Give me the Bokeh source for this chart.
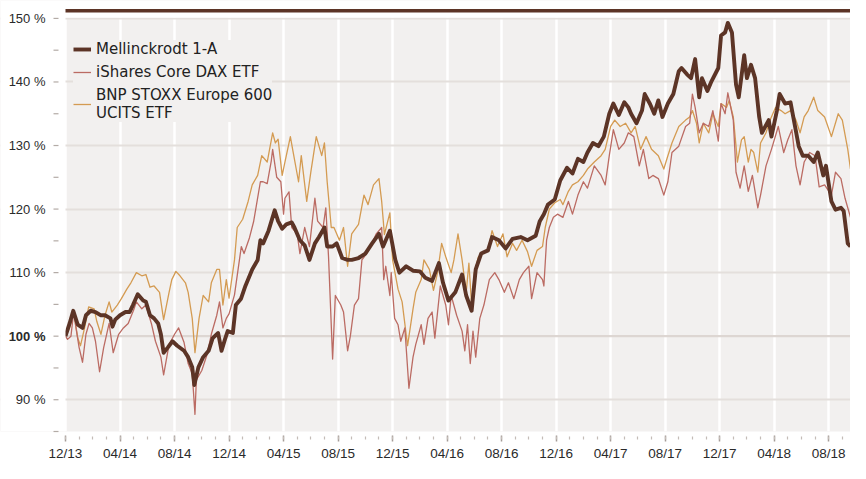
from bokeh.plotting import figure
from bokeh.models import (Range1d, FixedTicker, Legend, LegendItem, Span, BoxAnnotation)
from bokeh.core.properties import value
from bokeh.embed import file_html
from bokeh.resources import INLINE

# ---------------- data (months since 12/13, value in %) ----------------
mell_month = [0, 0.3, 0.57, 0.9, 1.25, 1.5, 1.85, 2.2, 2.57, 2.9, 3.3, 3.45, 3.65, 4.0, 4.4, 4.7,
              4.95, 5.3, 5.7, 5.9, 6.2, 6.5, 6.8, 7.0, 7.2, 7.5, 7.85, 8.2, 8.7, 9.0, 9.3, 9.45,
              9.75, 10.1, 10.5, 10.8, 11.2, 11.45, 11.7, 11.9, 12.28, 12.5, 12.88, 13.2, 13.7,
              14.1, 14.3, 14.5, 14.9, 15.35, 15.6, 15.9, 16.2, 16.6, 16.8, 17.2, 17.55, 17.9,
              18.3, 18.6, 19.0, 19.2, 19.6, 19.9, 20.3, 20.7, 21.0, 21.5, 22.0, 22.5, 23.0,
              23.3, 23.5, 23.8, 24.2, 24.5, 25.0, 25.5, 26.0, 26.4, 26.9, 27.4, 27.7, 28.1,
              28.6, 29.1, 29.4, 29.8, 30.1, 30.5, 31.0, 31.3, 31.8, 32.3, 32.8, 33.4, 33.9,
              34.5, 34.8, 35.1, 35.4, 35.9, 36.3, 36.8, 37.2, 37.6, 38.0, 38.3, 38.7, 39.1,
              39.5, 39.9, 40.2, 40.6, 41.0, 41.3, 41.5, 41.9, 42.3, 42.5, 42.9, 43.2, 43.5,
              43.8, 44.2, 44.6, 45.0, 45.2, 45.6, 45.9, 46.2, 46.5, 46.7, 47.1, 47.4, 47.9,
              48.1, 48.4, 48.6, 48.9, 49.2, 49.4, 49.8, 50.0, 50.3, 50.6, 50.9, 51.1, 51.6,
              51.8, 52.2, 52.4, 52.8, 53.2, 53.4, 53.8, 54.1, 54.5, 54.9, 55.2, 55.6, 55.8,
              56.2, 56.5, 56.9, 57.1, 57.4, 57.6]
mell_value = [100, 102, 104, 101.8, 101.3, 103.3, 104, 103.8, 103.3, 103.3, 102.8, 101.5, 102.6,
              103.3, 103.8, 103.8, 104.9, 106.6, 105.6, 105.4, 103.3, 102.8, 102, 100.3, 97.4,
              98.2, 99.2, 98.5, 97.7, 96.7, 95.1, 92.3, 95.1, 96.7, 97.7, 99.7, 100.5, 97.7,
              99.5, 100.8, 100.5, 104.9, 105.9, 107.9, 110.5, 112, 115.1, 114.6, 116.6, 119.8,
              118.1, 116.9, 117.6, 117.9, 117.1, 115.1, 114.3, 112, 114.6, 115.6, 117.1, 114.1,
              114.1, 114.6, 112.3, 112, 112, 112.3, 113, 114.6, 116.1, 114.1, 115.1, 116.6,
              112, 110, 111, 110.3, 110.2, 109.2, 108.7, 111.5, 108.4, 105.6, 106.9, 109.7,
              106.4, 104, 110.5, 113, 113.5, 115.6, 115.1, 113.8, 115.3, 115.6, 115.1, 115.8,
              118.1, 119.2, 120.7, 121.5, 124.5, 126.5, 125.6, 127.9, 127.4, 128.9, 130.4,
              129.9, 131.4, 135, 136.6, 134.8, 136.8, 136, 135, 133.5, 135.5, 138.1, 136.5,
              135, 137.1, 134.5, 136.6, 138.1, 141.7, 142.2, 141.2, 140.6, 143.6, 137.6, 140.6,
              138.6, 140.1, 142.2, 147.3, 147.8, 149.3, 147.8, 139.6, 137.6, 144.2, 140.6,
              142.7, 140.6, 134.5, 132, 134, 131.4, 135.5, 138.1, 136.6, 136.8, 134.5, 129.9,
              128.4, 128.4, 127.4, 128.9, 125.3, 126.8, 121.2, 119.9, 120.2, 119.7, 114.6, 114.1]

dax_month = [0, 0.15, 0.4, 0.6, 0.77, 1.0, 1.25, 1.5, 1.73, 1.97, 2.2, 2.5, 2.8, 3.2, 3.5, 3.9,
             4.25, 4.6, 5.0, 5.2, 5.6, 5.9, 6.3, 6.6, 7.0, 7.2, 7.6, 8.0, 8.3, 8.7, 9.0, 9.3, 9.5,
             9.6, 10.0, 10.4, 10.7, 11.1, 11.3, 11.55, 11.8, 12.0, 12.4, 12.9, 13.1, 13.5, 13.8,
             14.0, 14.3, 14.5, 14.8, 15.1, 15.2, 15.5, 15.8, 16.0, 16.1, 16.4, 16.6, 17.0, 17.2,
             17.55, 17.9, 18.3, 18.5, 18.9, 19.1, 19.3, 19.6, 19.8, 20.2, 20.4, 20.7, 20.9, 21.2,
             21.5, 21.75, 22.1, 22.5, 22.8, 23.2, 23.35, 23.5, 23.8, 23.9, 24.15, 24.4, 24.6,
             24.9, 25.2, 25.5, 25.7, 26.1, 26.3, 26.6, 26.9, 27.1, 27.5, 27.9, 28.1, 28.3, 28.7,
             29.1, 29.3, 29.5, 29.7, 29.9, 30.1, 30.4, 30.7, 31.1, 31.5, 31.8, 32.2, 32.5, 32.9,
             33.3, 33.6, 34.0, 34.2, 34.6, 35.0, 35.1, 35.3, 35.5, 35.8, 36.1, 36.5, 36.9, 37.2,
             37.6, 38.0, 38.3, 38.8, 39.3, 39.6, 39.9, 40.2, 40.6, 41.0, 41.3, 41.7, 42.1, 42.4,
             42.8, 43.1, 43.5, 43.9, 44.2, 44.5, 45.0, 45.5, 45.8, 46.0, 46.2, 46.5, 46.8, 47.2,
             47.5, 47.9, 48.1, 48.4, 48.6, 49.0, 49.2, 49.5, 49.8, 50.1, 50.4, 50.8, 51.0, 51.4,
             51.8, 52.3, 52.7, 53.0, 53.3, 53.6, 53.9, 54.2, 54.6, 55.0, 55.3, 55.7, 56.2, 56.5,
             56.9, 57.2, 57.6]
dax_value = [100, 99.5, 100, 103.8, 101.3, 98.2, 95.9, 100.3, 102, 101.3, 99.2, 94.4, 98.2, 102,
             97.4, 100.3, 101.3, 102, 104.1, 105.4, 104.3, 104.9, 102, 99.2, 96.7, 93.9, 98.7,
             100.3, 101.3, 99, 95.7, 94.1, 87.7, 93.1, 94.6, 97.2, 100.3, 103.3, 105.4, 101.3,
             102.8, 103.5, 106.5, 114.1, 113, 115.5, 118, 120.5, 124.3, 124.3, 124, 127.6, 129.4,
             125, 124.3, 119.2, 121.7, 122.7, 117.1, 116.1, 113, 117.1, 114.1, 121.7, 118.1,
             117.1, 120.2, 112.5, 96.4, 106.4, 104.9, 103.8, 97.7, 100, 104.9, 105.9, 112, 113,
             114.6, 116.1, 117.1, 108.9, 111, 106.4, 110, 102.8, 101.8, 99.2, 101.3, 91.8, 96.7,
             98.7, 101.8, 98.7, 102.8, 103.8, 99.7, 107.9, 104.9, 101.8, 106.4, 103.3, 100.8,
             97.7, 101.8, 95.7, 100.8, 96.7, 102.8, 104.9, 108.9, 110, 108.9, 106.9, 108.4,
             105.9, 108.9, 110, 111, 105.9, 110, 108.9, 107.9, 115.1, 117.1, 118.7, 119.2, 118.7,
             121.2, 119.2, 122.2, 124.3, 123.3, 126.8, 125.3, 123.8, 128.4, 132.5, 129.4, 130.4,
             132, 131.4, 126.8, 129.4, 124.8, 125.3, 124.8, 122.2, 124.3, 128.9, 129.9, 133,
             133.5, 138.1, 136, 132, 133.5, 133, 135.5, 130.7, 136.6, 135, 138.3, 134, 125.8,
             123.3, 126.8, 122.8, 125.3, 120.2, 122.2, 126.8, 129.4, 133, 128.9, 130.9, 132.5,
             126.8, 123.8, 127.4, 128.9, 128.4, 123.5, 123.8, 122.2, 125.8, 124.8, 121.7, 118.7]

bnp_month = [0, 0.3, 0.6, 0.9, 1.1, 1.4, 1.7, 2.1, 2.3, 2.6, 2.9, 3.2, 3.4, 3.8, 4.1, 4.5, 4.8,
             5.2, 5.6, 5.9, 6.2, 6.5, 6.9, 7.2, 7.6, 7.8, 8.1, 8.4, 8.8, 9.0, 9.3, 9.5, 9.8,
             10.1, 10.5, 10.7, 11.1, 11.3, 11.55, 11.8, 12.0, 12.4, 12.6, 13.0, 13.4, 13.7, 14.1,
             14.4, 14.8, 15.2, 15.4, 15.6, 15.9, 16.1, 16.5, 16.7, 17.1, 17.3, 17.7, 18.0, 18.4,
             18.8, 19.0, 19.2, 19.5, 19.7, 20.1, 20.4, 20.7, 21.0, 21.5, 21.9, 22.2, 22.6, 23.0,
             23.2, 23.4, 23.8, 24.0, 24.4, 24.7, 25.1, 25.5, 25.7, 26.1, 26.3, 26.7, 27.0, 27.3,
             27.6, 27.9, 28.3, 28.5, 28.8, 29.1, 29.4, 29.6, 29.8, 30.0, 30.3, 30.6, 31.0, 31.3,
             31.7, 32.1, 32.4, 32.8, 33.1, 33.5, 33.9, 34.2, 34.6, 35.0, 35.2, 35.5, 35.9, 36.3,
             36.5, 36.9, 37.2, 37.6, 38.0, 38.3, 38.8, 39.3, 39.6, 40.0, 40.3, 40.7, 41.1, 41.5,
             41.8, 42.2, 42.6, 43.0, 43.5, 43.9, 44.2, 44.5, 45.0, 45.5, 45.8, 46.0, 46.3, 46.5,
             46.8, 47.2, 47.5, 47.9, 48.1, 48.5, 48.7, 49.0, 49.2, 49.3, 49.6, 49.8, 50.1, 50.3,
             50.5, 50.8, 51.0, 51.4, 51.7, 52.1, 52.5, 52.8, 53.2, 53.6, 53.9, 54.2, 54.5, 54.9,
             55.2, 55.7, 56.2, 56.7, 57.0, 57.4, 57.6]
bnp_value = [100, 101.3, 103.8, 99.7, 98.5, 101.3, 104.6, 104.3, 102.3, 100.3, 103.3, 105.4, 103.8,
             104.9, 105.9, 107.4, 108.4, 110, 109.5, 109.7, 107.7, 107.9, 106.9, 102.6, 106.9,
             108.9, 110.2, 109.5, 108.4, 106.9, 102.8, 97.4, 102.8, 106.4, 105.4, 108.4, 110.5,
             110.5, 104.9, 108.9, 106, 112, 117.1, 118.4, 121.2, 123.8, 125.3, 128.4, 127.4, 132,
             130.4, 131, 125.3, 127.4, 131.4, 129, 124.3, 128.4, 121.2, 125.8, 131.4, 128.4,
             130.4, 124.3, 117.1, 117.1, 115.1, 117.1, 111, 116.1, 117.6, 122.2, 120.7, 123.8,
             124.8, 121.2, 116, 119.4, 112, 107.4, 105.4, 98.5, 104.3, 106.9, 108.9, 112, 110.5,
             107.2, 110, 114.6, 112.5, 110, 112, 116.1, 112, 106.9, 111.5, 104.9, 110, 112.5, 113,
             113.5, 116.6, 114.1, 116.1, 112.5, 114.6, 113.5, 115.1, 113.3, 111, 113.5, 114.1,
             117.1, 120, 121, 121.5, 120.7, 122.8, 123.8, 124.3, 125.3, 126.3, 127.4, 128.4,
             129.4, 133, 134, 133, 133.5, 132, 133, 129.4, 131.4, 129.4, 128.4, 126.3, 128.4,
             130.4, 133, 134, 134.5, 135.5, 133.5, 130.4, 133.5, 132, 135, 133, 136.6, 136, 137.1,
             134.5, 129.9, 127.4, 130.9, 131.4, 127.4, 129.4, 128.9, 125.8, 130.4, 132, 134, 136,
             135.5, 135, 135.5, 134, 132, 134.5, 135.5, 137.6, 135.5, 134.5, 131.4, 135, 134,
             129.4, 126.3]

series_names = ["Mellinckrodt 1-A", "iShares Core DAX ETF", "BNP STOXX Europe 600\nUCITS ETF"]

x_tick_months = [0, 4, 8, 12, 16, 20, 24, 28, 32, 36, 40, 44, 48, 52, 56]
x_tick_labels = ["12/13", "04/14", "08/14", "12/14", "04/15", "08/15", "12/15", "04/16",
                 "08/16", "12/16", "04/17", "08/17", "12/17", "04/18", "08/18"]
y_ticks = [90, 110, 120, 130, 140, 150]
y_tick_labels = ["90 %", "110 %", "120 %", "130 %", "140 %", "150 %"]
y_base = [100]
y_base_label = ["100 %"]
y_all_ticks = [85, 90, 95, 100, 105, 110, 115, 120, 125, 130, 135, 140, 145, 150]

# ---------------- styling ----------------
C_MELL = "#5c3426"
C_DAX = "#bb6b63"
C_BNP = "#d49b52"
BG = "#f2f0ef"
GRID = "#e4dfdc"
TXT = "#2a2a2a"
FONT = "Liberation Sans"
LFONT = "DejaVu Sans"

W, H = 850, 463
LEFT = 65                      # px from canvas left to the start of the plot area
X_END = 57.6
PX = (W - LEFT) / X_END        # px per month
X_START = -LEFT / PX
Y_TOP_FRAME = 152.82

p = figure(width=W, height=H, output_backend="svg", toolbar_location=None,
           x_range=Range1d(X_START, X_END), y_range=Range1d(85, Y_TOP_FRAME),
           y_axis_location=None,
           min_border_left=0, min_border_right=0, min_border_top=0, min_border_bottom=30)
p.background_fill_color = BG
p.border_fill_color = "white"
p.outline_line_color = None

r_bnp = p.line(bnp_month, bnp_value, line_color=C_BNP, line_width=1.3, line_join="round")
r_dax = p.line(dax_month, dax_value, line_color=C_DAX, line_width=1.3, line_join="round")
r_mell = p.line(mell_month, mell_value, line_color=C_MELL, line_width=3.9, line_join="round")

# white margins: left label column and band above 150 %
p.add_layout(BoxAnnotation(right=0, fill_color="white", fill_alpha=1.0, line_color=None,
                           level="annotation"))
p.add_layout(BoxAnnotation(bottom=150.12, fill_color="white", fill_alpha=1.0, line_color=None,
                           level="annotation"))
# top rule
p.add_layout(BoxAnnotation(left=0, bottom=150.94, top=151.49, fill_color=C_MELL, fill_alpha=1.0,
                           line_color=None, level="overlay"))

# x axis
xa = p.xaxis[0]
xa.ticker = FixedTicker(ticks=x_tick_months, minor_ticks=list(range(0, 58)))
xa.major_label_overrides = {m: l for m, l in zip(x_tick_months, x_tick_labels)}
xa.axis_line_color = None
xa.major_tick_in = -4
xa.major_tick_out = 10
xa.minor_tick_in = -5
xa.minor_tick_out = 8
xa.major_tick_line_color = "#a59c97"
xa.major_tick_line_width = 1.5
xa.minor_tick_line_color = "#c4bcb7"
xa.minor_tick_line_width = 1.2
xa.major_label_standoff = 4
xa.major_label_text_font = FONT
xa.major_label_text_font_size = "13.5px"
xa.major_label_text_color = TXT

# y "axis": ticks and labels drawn in the left column
tick_x0 = [-12 / PX] * len(y_all_ticks)
tick_x1 = [-7 / PX] * len(y_all_ticks)
p.segment(x0=tick_x0, y0=y_all_ticks, x1=tick_x1, y1=y_all_ticks, line_color="#b3aba6",
          line_width=1.2, level="overlay")
p.text(x=[-20 / PX] * len(y_ticks), y=y_ticks, text=y_tick_labels, text_align="right",
       text_baseline="middle", text_font=value(FONT), text_font_size="13px",
       text_color=TXT, level="overlay")
p.text(x=[-20 / PX], y=y_base, text=y_base_label, text_align="right",
       text_baseline="middle", text_font=value(FONT), text_font_size="13px",
       text_font_style="bold", text_color=TXT, level="overlay")

# grids
p.xgrid.ticker = FixedTicker(ticks=x_tick_months)
p.xgrid.grid_line_color = "white"
p.xgrid.grid_line_width = 2.5
p.ygrid.ticker = FixedTicker(ticks=y_ticks)
p.ygrid.grid_line_color = GRID
p.ygrid.grid_line_width = 1.8
p.add_layout(Span(location=y_base[0], dimension="width", line_color="#ddd6d2", line_width=2.2,
                  level="underlay"))

# legend
legend = Legend(items=[LegendItem(label=series_names[0], renderers=[r_mell]),
                       LegendItem(label=series_names[1], renderers=[r_dax]),
                       LegendItem(label=series_names[2], renderers=[r_bnp])],
                location=(LEFT + 8, 309), orientation="vertical")
legend.background_fill_color = BG
legend.background_fill_alpha = 1.0
legend.border_line_color = None
legend.padding = 8
legend.margin = 0
legend.spacing = 5
legend.glyph_width = 18
legend.glyph_height = 16
legend.label_height = 16
legend.label_standoff = 5
legend.label_text_font = LFONT
legend.label_text_font_size = "15px"
legend.label_text_color = "#222222"
legend.label_text_line_height = 1.3
p.add_layout(legend)

open("out.html", "w").write(file_html(p, INLINE))
